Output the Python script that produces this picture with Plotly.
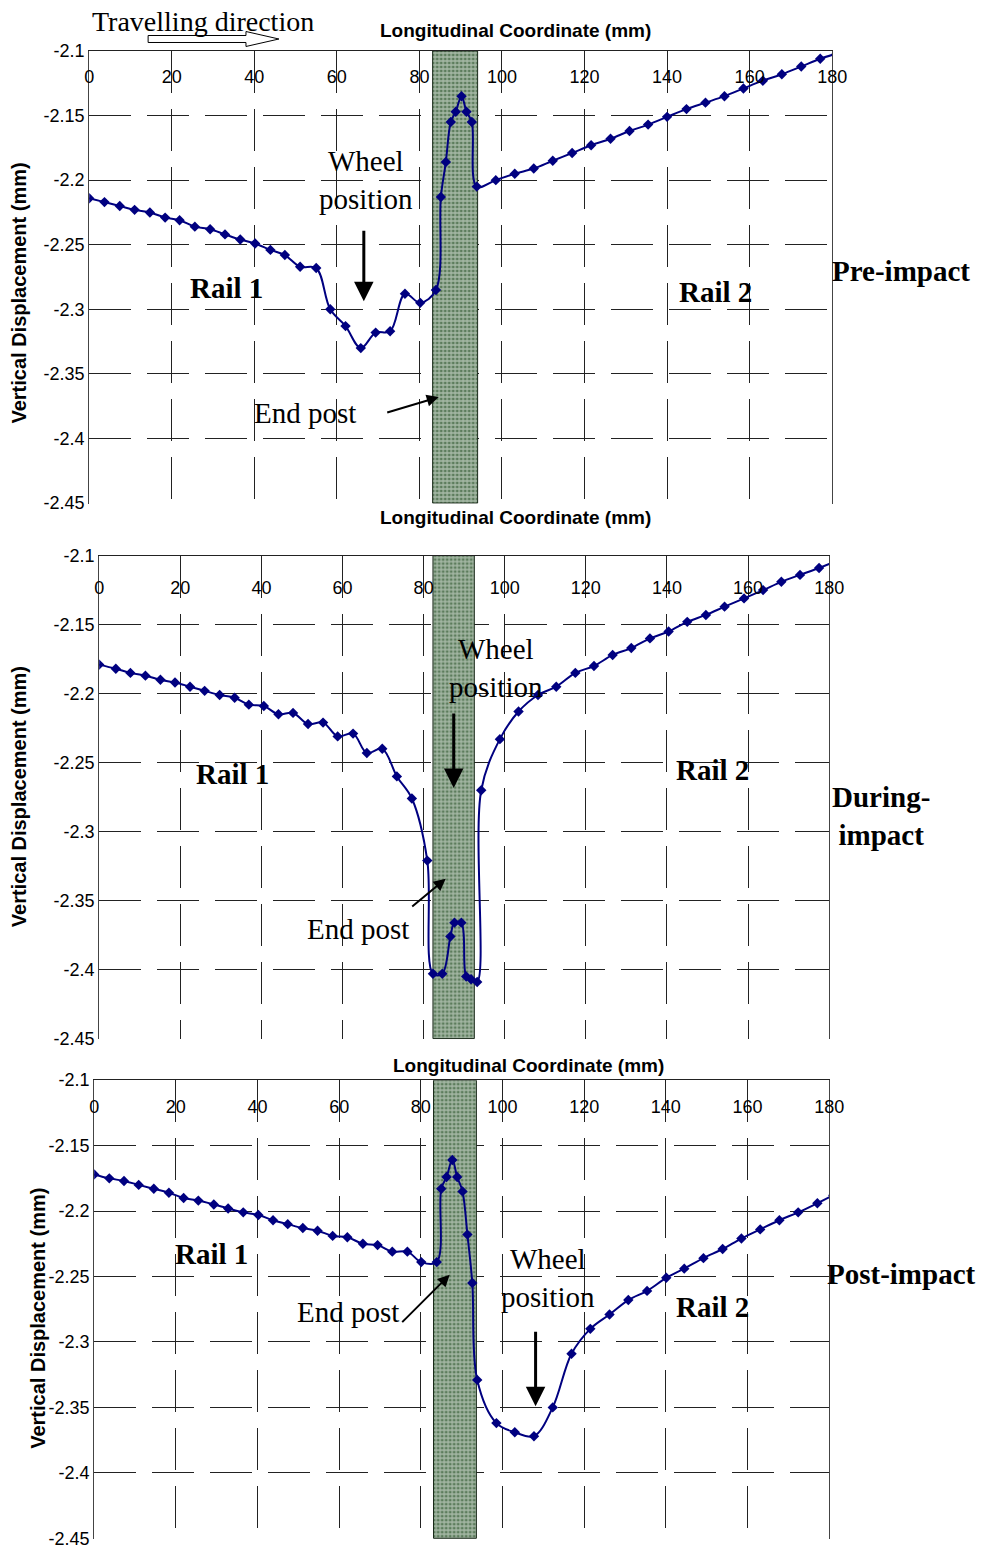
import plotly.graph_objects as go

# ---- measured vertical displacement along the rail (mm) ----
pre_x = [0, 3.7, 7.4, 11.0, 14.7, 18.4, 21.9, 25.6, 29.3, 32.9, 36.6, 40.2, 43.9, 47.4, 51.1, 55.0,
         58.4, 62.1, 65.8, 69.4, 72.9, 76.5, 80.2, 84.0,
         85.2, 86.4, 87.6, 88.8, 90.2, 91.4, 92.7, 93.9,
         98.5, 103.1, 107.7, 112.3, 117.0, 121.6, 126.3, 130.9, 135.4, 140.0, 144.7, 149.3, 153.9,
         158.5, 163.2, 167.8, 172.5, 177.1, 181.1]
pre_y = [-2.214, -2.217, -2.220, -2.223, -2.225, -2.229, -2.231, -2.236, -2.238, -2.242, -2.246, -2.249,
         -2.254, -2.258, -2.267, -2.268, -2.300, -2.313, -2.330, -2.318, -2.317, -2.288, -2.295, -2.285,
         -2.213, -2.186, -2.155, -2.147, -2.135, -2.147, -2.155, -2.205,
         -2.200, -2.195, -2.191, -2.185, -2.179, -2.173, -2.168, -2.162, -2.157, -2.151, -2.145, -2.140,
         -2.135, -2.129, -2.123, -2.118, -2.112, -2.106, -2.102]

during_x = [0, 4.1, 7.7, 11.4, 15.1, 18.7, 22.4, 26.0, 29.7, 33.4, 36.9, 40.6, 44.2, 47.8, 51.5, 55.2,
            58.8, 62.6, 66.0, 69.8, 73.4, 77.1, 80.9,
            82.3, 84.6, 86.6, 87.6, 89.3, 90.5, 91.7, 93.2,
            94.2, 98.8, 103.4, 108.2, 112.7, 117.4, 122.0, 126.6, 131.2, 135.8, 140.4, 145.0, 149.6,
            154.2, 159.0, 163.7, 168.2, 172.8, 177.5, 181.7]
during_y = [-2.179, -2.182, -2.185, -2.187, -2.190, -2.192, -2.195, -2.198, -2.201, -2.203, -2.208, -2.209,
            -2.215, -2.214, -2.222, -2.221, -2.231, -2.229, -2.243, -2.240, -2.260, -2.276, -2.321,
            -2.403, -2.403, -2.376, -2.366, -2.366, -2.405, -2.407, -2.409,
            -2.270, -2.233, -2.213, -2.201, -2.195, -2.185, -2.180, -2.172, -2.167, -2.160, -2.155, -2.148,
            -2.143, -2.137, -2.131, -2.125, -2.119, -2.114, -2.109, -2.104]

post_x = [0, 3.7, 7.3, 10.9, 14.6, 18.3, 21.9, 25.5, 29.3, 32.8, 36.5, 40.2, 43.8, 47.4, 51.1, 54.7,
          58.4, 62.0, 65.8, 69.4, 73.0, 76.7, 80.1, 83.9,
          85.0, 86.3, 87.7, 88.9, 90.2, 91.4, 92.6, 93.8,
          98.5, 103.0, 107.7, 112.3, 116.9, 121.5, 126.2, 130.8, 135.4, 140.1, 144.5, 149.2, 153.9,
          158.5, 163.1, 167.8, 172.4, 177.1, 181.0]
post_y = [-2.172, -2.175, -2.177, -2.180, -2.183, -2.186, -2.190, -2.192, -2.195, -2.198, -2.201, -2.203,
          -2.207, -2.210, -2.213, -2.215, -2.219, -2.220, -2.225, -2.226, -2.231, -2.231, -2.239, -2.239,
          -2.183, -2.174, -2.161, -2.174, -2.185, -2.218, -2.255, -2.329,
          -2.362, -2.369, -2.372, -2.350, -2.309, -2.290, -2.279, -2.268, -2.261, -2.251, -2.244, -2.236,
          -2.229, -2.221, -2.214, -2.207, -2.201, -2.194, -2.188]

# end post extent (mm) in each stage
endpost_left = [83.2, 82.3, 83.1]
endpost_right = [94.1, 92.5, 93.6]

x_ticks = [0, 20, 40, 60, 80, 100, 120, 140, 160, 180]
y_ticks = [-2.1, -2.15, -2.2, -2.25, -2.3, -2.35, -2.4, -2.45]
y_tick_text = ["-2.1", "-2.15", "-2.2", "-2.25", "-2.3", "-2.35", "-2.4", "-2.45"]

W, H = 985, 1549


def PX(x):
    # page columns -> paper fraction (the page is viewed slightly squeezed sideways)
    xx = (x - 3.7) / 0.981
    return min(1.0, max(0.0, xx / W))


def PY(y):
    # page rows -> paper fraction (the page sits 8px down and is viewed slightly squeezed)
    yy = y * (H + 16) / H - 8
    return min(1.0, max(0.0, 1 - yy / H))


# plot areas in pixels: (left, right, top, bottom) and x label offset below the top edge
areas = [(88, 832, 49, 503), (98, 829, 555, 1040), (93, 829, 1081, 1541)]
label_offset = [13, 19, 14]
series = [(pre_x, pre_y), (during_x, during_y), (post_x, post_y)]

SANS = "Liberation Sans, Arial, sans-serif"
SERIF = "Liberation Serif, Times New Roman, serif"
NAVY = "#000080"
GRID = dict(showgrid=True, gridcolor="#222", gridwidth=1, griddash="42px,16px")

fig = go.Figure()
layout = dict(
    width=W, height=H, margin=dict(l=0, r=0, t=0, b=0, pad=0),
    paper_bgcolor="white", plot_bgcolor="white", showlegend=False,
)

for i, ((l, r, t, b), (sx, sy)) in enumerate(zip(areas, series)):
    n = "" if i == 0 else str(i + 1)
    nl = str(i + 4)
    xa, ya, xl = "x" + n, "y" + n, "x" + nl
    left, right = endpost_left[i], endpost_right[i]
    fig.add_trace(go.Bar(
        x=[(left + right) / 2], y=[0.35], base=[-2.45], width=[right - left],
        xaxis=xa, yaxis=ya,
        marker=dict(color="#5c7c5c", line=dict(color="#1a2a1a", width=1),
                    pattern=dict(shape="+", fgcolor="#f2f6f2", size=4, solidity=0.55)),
        hoverinfo="skip",
    ))
    fig.add_trace(go.Scatter(
        x=sx, y=sy, xaxis=xa, yaxis=ya, mode="lines+markers",
        line=dict(color=NAVY, width=2, shape="spline", smoothing=1.0),
        marker=dict(symbol="diamond", size=8, color=NAVY),
    ))
    # carrier for the tick-label axis that sits just under the top edge
    fig.add_trace(go.Scatter(x=sx, y=sy, xaxis=xl, yaxis=ya, mode="none", hoverinfo="skip"))

    layout["xaxis" + n] = dict(
        domain=[PX(l), PX(r)], anchor=ya, side="top", range=[0, 180],
        tickvals=x_ticks, showticklabels=False, ticks="",
        showline=True, linecolor="#222", linewidth=1,
        zeroline=False, fixedrange=True, **GRID,
    )
    layout["xaxis" + nl] = dict(
        overlaying=xa, anchor="free", position=PY(t + label_offset[i]), side="bottom",
        range=[0, 180], tickvals=x_ticks, ticks="",
        tickfont=dict(family=SANS, size=18, color="black"),
        showline=False, showgrid=False, zeroline=False, fixedrange=True,
    )
    layout["yaxis" + n] = dict(
        domain=[PY(b), PY(t)], anchor=xa, range=[-2.4505, -2.1],
        tickvals=y_ticks, ticktext=y_tick_text, ticks="",
        tickfont=dict(family=SANS, size=18, color="black"),
        showline=True, linecolor="#444", linewidth=1, mirror=True,
        zeroline=False, fixedrange=True, **GRID,
    )

fig.update_layout(**layout)

anns = []


def text(s, x, y, size=29, bold=False, family=SERIF, anchor="center", angle=0):
    anns.append(dict(
        text=("<b>%s</b>" % s) if bold else s, x=PX(x), y=PY(y), xref="paper", yref="paper",
        xanchor=anchor, yanchor="middle", showarrow=False, textangle=angle,
        font=dict(family=family, size=size, color="black"),
    ))


def arrow(x0, y0, x1, y1, width=3, size=1.3):
    anns.append(dict(
        text="", x=PX(x1), y=PY(y1), xref="paper", yref="paper",
        ax=x0 - x1, ay=y0 - y1, axref="pixel", ayref="pixel",
        showarrow=True, arrowhead=2, arrowsize=size, arrowwidth=width, arrowcolor="black",
    ))


# axis titles
text("Longitudinal Coordinate (mm)", 515, 28, size=19, bold=True, family=SANS)
text("Longitudinal Coordinate (mm)", 515, 517, size=19, bold=True, family=SANS)
text("Longitudinal Coordinate (mm)", 528, 1066, size=19, bold=True, family=SANS)
text("Vertical Displacement (mm)", 18, 292, size=20, bold=True, family=SANS, angle=-90)
text("Vertical Displacement (mm)", 18, 797, size=20, bold=True, family=SANS, angle=-90)
text("Vertical Displacement (mm)", 36, 1320, size=20, bold=True, family=SANS, angle=-90)

# travelling direction
text("Travelling direction", 202, 19, size=28)
fig.add_shape(
    type="path", xref="paper", yref="paper",
    path="M %f %f L %f %f L %f %f L %f %f L %f %f L %f %f L %f %f Z" % (
        PX(147), PY(33.5), PX(245), PY(33.5), PX(245), PY(29.5), PX(278), PY(37),
        PX(245), PY(44.5), PX(245), PY(40.5), PX(147), PY(40.5)),
    line=dict(color="black", width=1), fillcolor="white",
)

# pre-impact
text("Wheel<br>position", 365, 178)
arrow(363, 228, 363, 300)
text("Rail 1", 225, 287, bold=True)
text("Rail 2", 715, 291, bold=True)
text("End post", 304, 412)
arrow(385, 412, 438, 396, width=2, size=1.2)
text("Pre-impact", 830, 270, bold=True, anchor="left")

# during impact
text("Wheel<br>position", 495, 668)
arrow(453, 712, 453, 788)
text("Rail 1", 232, 774, bold=True)
text("Rail 2", 712, 770, bold=True)
text("End post", 357, 929)
arrow(410, 908, 445, 879, width=2, size=1.2)
text("During-<br>impact", 830, 816, bold=True, anchor="left")

# post impact
text("Rail 1", 210, 1255, bold=True)
text("Rail 2", 712, 1308, bold=True)
text("Wheel<br>position", 547, 1279)
arrow(535, 1332, 535, 1408)
text("End post", 347, 1313)
arrow(400, 1325, 449, 1276, width=2, size=1.2)
text("Post-impact", 825, 1275, bold=True, anchor="left")

fig.update_layout(annotations=anns)
fig.write_html("out.html")
